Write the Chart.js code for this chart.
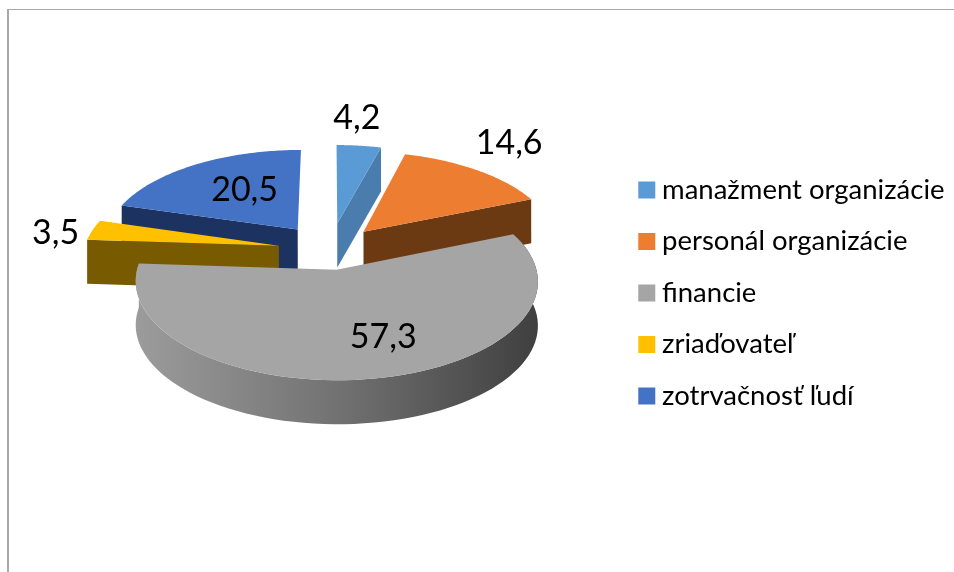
<!DOCTYPE html>
<html lang="sk">
<head>
<meta charset="utf-8">
<title>Graf</title>
<script src="https://cdn.jsdelivr.net/npm/chart.js@4/dist/chart.umd.min.js"></script>
<style>
  html, body { margin: 0; background: #fff; overflow: hidden; }
  #frame { position: absolute; left: 7px; top: 9px; right: 0; bottom: 0; border-left: 2px solid #a8a8a8; border-top: 1px solid #a8a8a8; }
  canvas { position: absolute; left: 0; top: 0; }
</style>
</head>
<body>
<div id="frame"></div>
<canvas id="chart" width="954" height="572"></canvas>
<script>
const categories = ['manažment organizácie', 'personál organizácie', 'financie', 'zriaďovateľ', 'zotrvačnosť ľudí'];
const shares = [4.2, 14.6, 57.3, 3.5, 20.5];
const shareLabels = ['4,2', '14,6', '57,3', '3,5', '20,5'];

// look of the slices
const topColors = ['#5B9BD5', '#ED7D31', '#A5A5A5', '#FFC000', '#4472C4'];
const sideColors = ['#4A7DAD', '#6C3A12', '#6e6e6e', '#785A00', '#1C3260'];
const explode = [58, 52, 41, 52, 55];
const drawOrder = [0, 4, 1, 3, 2];
const labelNudge = [[-2, -28], [32, -27], [9, -42], [-37, 3], [49, 25]];

// fake 3D: pie plane tipped back, with a bit of perspective
const tilt = 0.477;
const persp = 0.114;
const depth = 44;
const lift = 43;

function pie3d(chart, meta) {
  const ctx = chart.ctx;
  const first = meta.data[0];
  const R = first.outerRadius;
  const cx = first.x;
  const cy = first.y - lift;

  function project(x, y) {
    const w = 1 - persp * y / R;
    return [cx + x / w, cy + tilt * y / w];
  }

  function outline(points, dy) {
    points.forEach((p) => {
      ctx.lineTo(p[0], p[1] + dy);
    });
  }

  function wall(points, fill) {
    ctx.beginPath();
    outline(points, 0);
    outline(points.slice().reverse(), depth);
    ctx.closePath();
    ctx.fillStyle = fill;
    ctx.fill();
  }

  const slices = meta.data.map((arc) => {
    const mid = (arc.startAngle + arc.endAngle) / 2;
    const ox = Math.cos(mid) * arc.options.offset;
    const oy = Math.sin(mid) * arc.options.offset;
    const rim = [];
    for (let i = 0; i <= 80; i++) {
      const a = arc.startAngle + (arc.endAngle - arc.startAngle) * i / 80;
      rim.push(project(ox + Math.cos(a) * R, oy + Math.sin(a) * R));
    }
    return { tip: project(ox, oy), rim, mid: rim[40], front: Math.sin(mid) > 0 };
  });

  drawOrder.forEach((i) => {
    const s = slices[i];
    const side = meta.data[i].options.borderColor;
    // cut faces: only the ones turned to the viewer
    if (s.rim[0][0] < s.tip[0] - 5) wall([s.tip, s.rim[0]], side);
    if (s.rim[80][0] > s.tip[0] + 5) wall([s.tip, s.rim[80]], side);
    // outer wall is only seen on the slice facing us
    if (s.front) {
      const rimFill = ctx.createLinearGradient(135, 0, 539, 0);
      rimFill.addColorStop(0, '#9c9c9c');
      rimFill.addColorStop(0.5, '#727272');
      rimFill.addColorStop(1, '#3f3f3f');
      wall(s.rim, rimFill);
    }
    ctx.beginPath();
    outline([s.tip].concat(s.rim), 0);
    ctx.closePath();
    ctx.fillStyle = meta.data[i].options.backgroundColor;
    ctx.fill();
  });

  ctx.font = '34px Lato';
  ctx.fillStyle = '#000';
  ctx.textAlign = 'center';
  ctx.textBaseline = 'middle';
  slices.forEach((s, i) => {
    ctx.fillText(shareLabels[i], s.mid[0] + labelNudge[i][0], s.mid[1] + labelNudge[i][1]);
  });
}

new Chart(document.getElementById('chart').getContext('2d'), {
  type: 'pie',
  data: {
    labels: categories,
    datasets: [{
      data: shares,
      backgroundColor: topColors,
      borderColor: sideColors,
      borderWidth: 0,
      offset: explode
    }]
  },
  options: {
    responsive: false,
    animation: false,
    radius: 195,
    layout: { padding: { left: 38.5, top: 14, right: -0.5 } },
    plugins: {
      tooltip: { enabled: false },
      legend: {
        position: 'right',
        labels: {
          color: '#000',
          font: { family: 'Lato', size: 27.5 },
          boxWidth: 3,
          boxHeight: 3,
          padding: 24,
          // thick outline makes a 17px square and keeps the text close to it
          generateLabels(chart) {
            return categories.map((name, i) => ({
              text: name,
              fillStyle: topColors[i],
              strokeStyle: topColors[i],
              lineWidth: 14,
              lineJoin: 'miter',
              index: i
            }));
          }
        }
      }
    }
  },
  plugins: [{
    id: 'pie3d',
    beforeDatasetDraw(chart, args) {
      pie3d(chart, args.meta);
      return false;
    }
  }]
});
</script>
</body>
</html>
